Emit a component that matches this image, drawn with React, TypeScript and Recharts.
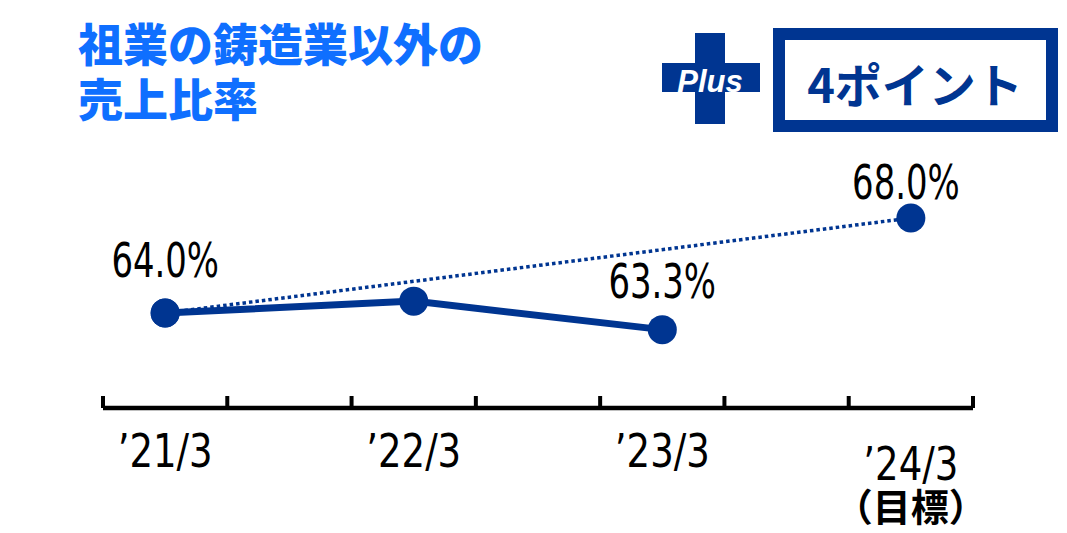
import { LineChart, Line, XAxis, YAxis } from 'recharts'

const categories = ['’21/3', '’22/3', '’23/3', '’24/3']
const subLabels = ['', '', '', '（目標）']
const actual = [64.0, 64.5, 63.3, null]
const target = [64.0, null, null, 68.0]
const actualLabels = ['64.0%', '', '63.3%', '']
const targetLabels = ['', '', '', '68.0%']
const axisTicks = [0, 1, 2, 3, 4, 5, 6, 7]
const titleLines = ['祖業の鋳造業以外の', '売上比率']
const badgeText = '4ポイント'

const NAVY = '#003591'
const BLUE = '#0F6FFF'
const NARROW = "'Liberation Sans Narrow', 'DejaVu Sans Condensed', 'Arial Narrow', sans-serif"
const JP = "'Noto Sans CJK JP', 'Noto Sans', sans-serif"

// each category sits in the middle of every other tick interval
const data = categories.map((c, i) => ({
  pos: i * 2 + 0.5,
  name: c,
  actual: actual[i],
  target: target[i],
}))

const labelTicks = data.map(d => d.pos)

function AxisTick(props: any) {
  const { x, y, payload } = props
  const v = payload.value as number
  if (Number.isInteger(v)) {
    return <line x1={x} x2={x} y1={y} y2={y - 12} stroke="#000" strokeWidth={4} />
  }
  const i = labelTicks.indexOf(v)
  const sub = subLabels[i]
  return (
    <g>
      <text
        x={x}
        y={y + (sub ? 72 : 59)}
        textAnchor="middle"
        fontFamily={NARROW}
        fontSize={46}
        fill="#000"
        textLength={95}
        lengthAdjust="spacingAndGlyphs"
      >
        {categories[i]}
      </text>
      {sub && (
        <text x={x} y={y + 113} textAnchor="middle" fontFamily={JP} fontWeight={700} fontSize={38} fill="#000">
          {sub}
        </text>
      )}
    </g>
  )
}

const labelShift: Record<string, [number, number]> = {
  'actual-0': [0, -36],
  'actual-2': [0, -32],
  'target-3': [-5, -19],
}

function makeLabel(key: string, texts: string[]) {
  return (props: any) => {
    const { x, y, index } = props
    const t = texts[index]
    if (!t || x == null || y == null) return null
    const [dx, dy] = labelShift[`${key}-${index}`] ?? [0, -30]
    return (
      <text
        x={x + dx}
        y={y + dy}
        textAnchor="middle"
        fontFamily={NARROW}
        fontSize={48}
        fill="#000"
        textLength={t.length * 21.5}
        lengthAdjust="spacingAndGlyphs"
      >
        {t}
      </text>
    )
  }
}

export default function App() {
  return (
    <div style={{ position: 'absolute', left: 0, top: 0, width: 1067, height: 533, background: '#fff' }}>
      <LineChart
        width={1067}
        height={533}
        data={data}
        margin={{ top: 170.5, right: 94, left: 103, bottom: 124 }}
      >
        <YAxis hide domain={[60, 70]} type="number" />
        <XAxis
          dataKey="pos"
          type="number"
          domain={[0, 7]}
          ticks={[...axisTicks, ...labelTicks]}
          interval={0}
          height={1}
          tickSize={0}
          tickMargin={0}
          tickLine={false}
          axisLine={{ stroke: '#000', strokeWidth: 4.5 }}
          tick={<AxisTick />}
        />
        <Line
          dataKey="target"
          type="linear"
          stroke={NAVY}
          strokeWidth={3.5}
          strokeDasharray="3.5 3"
          connectNulls
          dot={{ r: 14.5, fill: NAVY, stroke: 'none' }}
          activeDot={false}
          label={makeLabel('target', targetLabels)}
          isAnimationActive={false}
        />
        <Line
          dataKey="actual"
          type="linear"
          stroke={NAVY}
          strokeWidth={7}
          dot={{ r: 14.5, fill: NAVY, stroke: 'none' }}
          activeDot={false}
          label={makeLabel('actual', actualLabels)}
          isAnimationActive={false}
        />
      </LineChart>

      <svg
        width={1067}
        height={533}
        style={{ position: 'absolute', left: 0, top: 0, pointerEvents: 'none' }}
      >
        {titleLines.map((t, i) => (
          <text key={t} x={78} y={62 + i * 55} fontFamily={JP} fontWeight={900} fontSize={45} fill={BLUE}>
            {t}
          </text>
        ))}
        <rect x={695} y={33} width={30} height={91} fill={NAVY} />
        <rect x={662} y={63} width={98} height={29} fill={NAVY} />
        <text
          x={710}
          y={92}
          textAnchor="middle"
          fontFamily="'Liberation Sans', Arial, sans-serif"
          fontWeight={700}
          fontStyle="italic"
          fontSize={31}
          fill="#fff"
        >
          Plus
        </text>
        <rect x={779} y={34} width={273} height={92} fill="none" stroke={NAVY} strokeWidth={12} />
        <text x={915} y={103} textAnchor="middle" fontFamily={JP} fontWeight={700} fontSize={47} fill={NAVY}>
          {badgeText}
        </text>
      </svg>
    </div>
  )
}
